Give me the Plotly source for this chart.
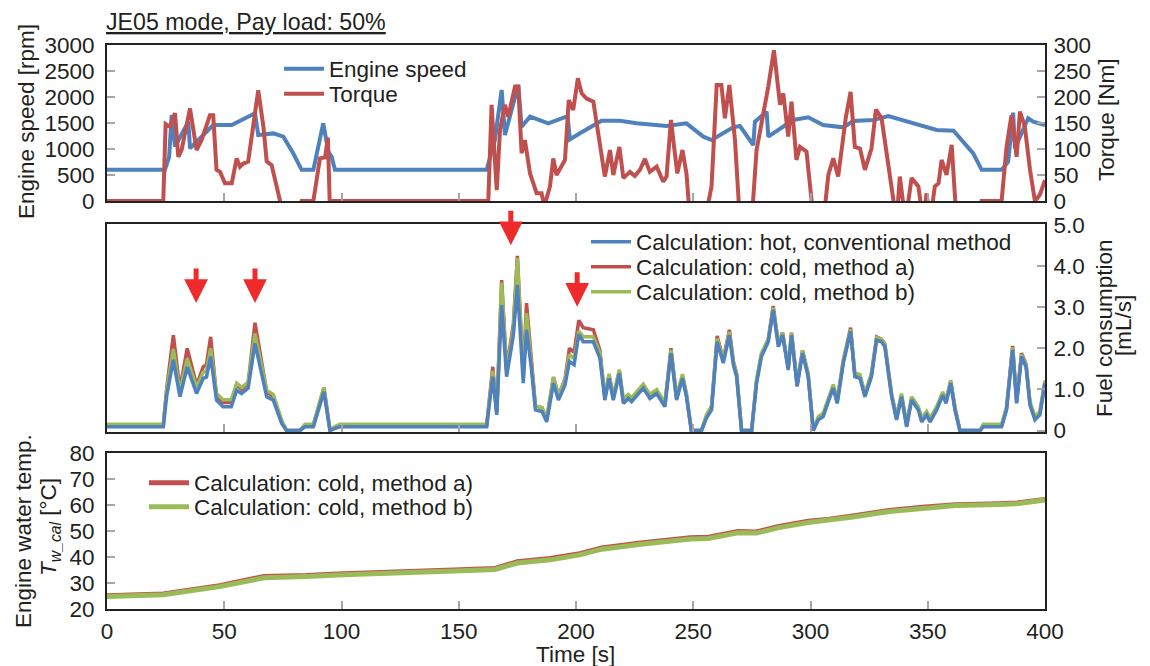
import plotly.graph_objects as go

# ---------------- data ----------------
t_speed = [0, 24.7, 26.5, 27.6, 29, 34.7, 35.4, 45.3, 53.2, 63.1, 64.5, 70.9, 75.2, 79.4, 83, 88, 92.2, 94.4, 95.8, 97.2,
           161.9, 165.4, 168.3, 169.7, 175.4, 176.8, 180.4, 188.2, 196.4, 197.4, 201.7, 210.9, 218.7, 225.8, 238.6, 247.1,
           254.3, 257.8, 267, 269.9, 275.6, 276.3, 281.3, 282, 292.6, 299, 305.4, 314, 318.2, 326.8, 333.2, 342.4, 353.8,
           361, 369.4, 373, 381.5, 384.3, 386.4, 387.2, 392.8, 395, 400]
engine_speed = [600, 600, 850, 1654, 1045, 1525, 1013, 1461, 1461, 1686, 1269, 1300, 1237, 917, 600, 600, 1494, 948, 852, 600,
                600, 1173, 2135, 1269, 2231, 1429, 1621, 1494, 1630, 1186, 1302, 1545, 1545, 1494, 1442, 1494,
                1237, 1173, 1417, 1442, 1077, 1525, 1718, 1237, 1558, 1609, 1461, 1417, 1538, 1558, 1635, 1506, 1365,
                1352, 917, 600, 600, 756, 1699, 1013, 1590, 1525, 1461]

t_torque = [0, 24, 25, 26.9, 29, 30.4, 31.8, 35.4, 38.2, 40.3, 43.9, 45.3, 46.7, 48.2, 50.3, 53.2, 55.3, 56.7, 58.1, 60.2,
            64.5, 66.7, 68.1, 70.2, 73.8, 76, 81, 83, 88, 90.8, 93, 94.2, 95.2, 96.3,
            162.6, 164, 166.2, 167.6, 169.7, 171.1, 174, 175.4, 176.8, 178.2, 180.4, 183.2, 185.3, 186.5, 188.9, 190.3,
            191.7, 195.3, 196.9, 198.8, 200.8, 202.4, 204.5, 207.4, 212.3, 214.5, 215.9, 218.5, 220.2, 223, 225.1, 227.3,
            229.4, 231.5, 234.4, 237.2, 238.6, 240.5, 241.5, 243.2, 245.4, 247.1, 248.7, 254.8, 257.8, 259.2, 260, 262,
            263.5, 265.4, 267.8, 269.9, 274.9, 277, 279.8, 282, 284.4, 287, 288.4, 290.5, 291.9, 294, 295.5, 298.3,
            301.4, 305.5, 307.6, 309.7, 311.8, 315.1, 317.1, 318.9, 321.1, 323.2, 326, 327.9, 330.3, 333.9, 336.7,
            338.1, 339.5, 340.5, 343.1, 346, 348.1, 349.5, 351, 353, 354.6, 355.9, 358, 360.2, 362.3, 372.5, 373,
            381.5, 383.6, 385.7, 387.9, 389.3, 391.4, 393.6, 395.7, 397.8, 400]
torque = [0, 0, 148, 143, 169, 85, 98, 178, 98, 117, 165, 165, 60, 56, 34, 34, 82, 66, 72, 76,
          213, 143, 76, 69, 0, -40, -40, 0, 0, 82, 84, 122, -40, 0,
          0, 185, 21, 137, 185, 162, 220, 220, 92, 117, 53, 15, 15, -10, 28, 82,
          50, 79, 194, 175, 236, 207, 197, 191, 47, 98, 50, 104, 44, 56, 48, 60,
          81, 56, 66, 37, 47, 156, 117, 53, 98, 53, -40, -40, 28, 162, 223, 223,
          159, 223, 117, -40, -40, 98, 162, 220, 290, 185, 207, 124, 191, 79, 104, 95,
          -40, -40, 50, 82, 47, 162, 210, 104, 101, 60, 101, 176, 159, 47, -40,
          47, 0, -40, 44, 28, -40, 15, -40, 28, 34, 79, 50, 108, -40, -40, 0,
          0, 104, 165, 85, 172, 143, 60, 0, 12, 40]

t_fuel = [0, 24, 25.5, 28.3, 31.1, 34.2, 38.2, 41, 42.4, 44.2, 46.7, 49.5, 53, 55.3, 57.4, 60.2, 63.1, 68.1, 70.9, 74.5,
          76.6, 82.3, 84.4, 88, 92.5, 95.1, 97.2, 99.3, 161.9, 164.5, 166.2, 168.3, 170.4, 173.3, 175, 177.5, 178.9,
          180.9, 182.7, 185.5, 187.5, 190.4, 192.5, 195.3, 197.2, 199.2, 201.2, 203.1, 207.4, 210.2, 212.3, 214.1,
          215.9, 218.5, 220.2, 222.3, 223.7, 228.7, 231.5, 234.4, 237.9, 240.5, 242.9, 245.4, 247.1, 249.2, 253.5,
          255.6, 257.8, 260.2, 262.8, 265.4, 267.1, 268.5, 270.6, 274.9, 277, 279.1, 282, 284.1, 286.3, 288.1, 290.5,
          291.9, 294.3, 296.6, 299, 301.2, 303.3, 305.4, 307.6, 309.7, 311.4, 314, 317.1, 318.9, 321.1, 323.2, 326,
          328.2, 330.3, 331.7, 334.6, 336.7, 338.8, 341, 343.1, 346, 347.4, 349.5, 351, 353.8, 356.4, 357.8, 359.8,
          361.6, 363.7, 372.3, 373.7, 381.5, 383.6, 386.2, 387.9, 390, 391.9, 393.6, 395.7, 397.8, 400]
fuel_hot = [0.09, 0.09, 0.86, 1.72, 0.82, 1.55, 0.9, 1.27, 1.3, 1.8, 0.74, 0.58, 0.58, 0.98, 0.9, 1.03, 2.12, 0.82, 0.74, 0.17,
            0, 0, 0.09, 0.09, 0.94, 0, 0.05, 0.09, 0.09, 1.31, 0.38, 3.05, 1.31, 2.32, 3.54, 1.15, 2.45,
            1.55, 0.5, 0.46, 0.21, 1.15, 0.74, 1.1, 1.68, 1.6, 2.34, 2.16, 2.16, 1.76, 0.74, 1.27,
            0.74, 1.39, 0.66, 0.78, 0.7, 1.03, 0.78, 0.9, 0.58, 1.88, 0.74, 1.27, 0.82, 0, 0,
            0.3, 0.5, 2.16, 1.64, 2.32, 1.6, 1.31, 0, 0, 1.15, 1.8, 2.16, 2.93, 2.04, 2.32, 1.47,
            2.32, 1.07, 1.88, 1.31, 0, 0.26, 0.34, 0.7, 1.03, 0.66, 1.64, 2.41, 1.31, 1.27, 0.82, 1.31,
            2.2, 2.16, 2.04, 0.82, 0.26, 0.82, 0.09, 0.74, 0.5, 0.21, 0.38, 0.21, 0.5, 0.86, 0.66, 1.15,
            0.5, 0, 0, 0.09, 0.09, 0.5, 1.96, 0.66, 1.8, 1.55, 0.62, 0.26, 0.38, 1.15]
fuel_cold_a = [0.12, 0.12, 1.05, 2.32, 1.0, 2.0, 1.1, 1.55, 1.6, 2.28, 0.85, 0.68, 0.68, 1.12, 1.0, 1.15, 2.62, 0.95, 0.82, 0.2,
               0, 0, 0.12, 0.12, 1.05, 0, 0.08, 0.12, 0.12, 1.55, 0.45, 3.66, 1.5, 2.6, 4.25, 1.35, 3.1,
               1.8, 0.6, 0.55, 0.28, 1.3, 0.85, 1.25, 2.0, 1.9, 2.68, 2.5, 2.45, 1.95, 0.8, 1.35,
               0.8, 1.45, 0.7, 0.82, 0.75, 1.08, 0.82, 0.95, 0.62, 2.0, 0.78, 1.32, 0.86, 0, 0,
               0.32, 0.55, 2.3, 1.72, 2.45, 1.68, 1.36, 0, 0, 1.2, 1.86, 2.22, 3.03, 2.1, 2.38, 1.52,
               2.38, 1.1, 1.94, 1.35, 0, 0.3, 0.38, 0.74, 1.08, 0.7, 1.7, 2.5, 1.36, 1.32, 0.86, 1.36,
               2.28, 2.22, 2.1, 0.86, 0.3, 0.86, 0.12, 0.78, 0.54, 0.25, 0.42, 0.25, 0.54, 0.9, 0.7, 1.2,
               0.54, 0, 0, 0.12, 0.12, 0.54, 2.06, 0.7, 1.88, 1.62, 0.66, 0.3, 0.42, 1.2]
fuel_cold_b = [0.15, 0.15, 1.0, 1.98, 0.95, 1.75, 1.05, 1.42, 1.45, 2.0, 0.9, 0.75, 0.75, 1.15, 1.05, 1.18, 2.36, 0.98, 0.88, 0.25,
               0, 0, 0.15, 0.15, 1.05, 0, 0.1, 0.15, 0.15, 1.45, 0.45, 3.6, 1.45, 2.5, 4.2, 1.3, 2.85,
               1.72, 0.6, 0.56, 0.3, 1.3, 0.85, 1.22, 1.85, 1.75, 2.42, 2.28, 2.28, 1.88, 0.84, 1.38,
               0.84, 1.48, 0.76, 0.88, 0.8, 1.13, 0.88, 1.0, 0.68, 1.96, 0.84, 1.37, 0.92, 0, 0,
               0.38, 0.6, 2.24, 1.72, 2.4, 1.68, 1.4, 0, 0, 1.25, 1.88, 2.22, 2.99, 2.12, 2.38, 1.56,
               2.38, 1.16, 1.95, 1.4, 0, 0.34, 0.42, 0.8, 1.12, 0.75, 1.72, 2.46, 1.4, 1.36, 0.9, 1.4,
               2.26, 2.22, 2.1, 0.9, 0.34, 0.9, 0.16, 0.82, 0.58, 0.3, 0.46, 0.3, 0.58, 0.94, 0.75, 1.22,
               0.58, 0, 0, 0.15, 0.15, 0.58, 2.02, 0.75, 1.85, 1.62, 0.7, 0.34, 0.46, 1.22]

t_temp = [0, 24, 48, 57, 67, 85, 101, 148, 165.5, 175, 189, 201.6, 211, 226.7, 248.7, 256.5, 269, 277, 286, 299, 308,
          318, 333.5, 349, 362, 380.6, 388, 400]
temp_cold_a = [25.1, 25.8, 29.0, 30.6, 32.5, 32.9, 33.6, 35.0, 35.6, 38.2, 39.4, 41.3, 43.5, 45.3, 47.4, 47.6, 49.8,
               49.6, 51.7, 53.8, 54.5, 55.8, 57.9, 59.2, 60.1, 60.5, 60.8, 62.1]
temp_cold_b = [24.8, 25.5, 28.6, 30.2, 32.0, 32.5, 33.2, 34.6, 35.2, 37.7, 38.9, 40.8, 43.0, 44.8, 46.9, 47.1, 49.3,
               49.2, 51.2, 53.3, 54.1, 55.4, 57.5, 58.8, 59.8, 60.2, 60.5, 61.9]

arrow_t = [38, 63.1, 172.2, 200.5]
arrow_tip = [3.10, 3.10, 4.51, 3.01]

x_ticks = [0, 50, 100, 150, 200, 250, 300, 350, 400]
fuel_ticks = [0, 1, 2, 3, 4, 5]
fuel_ticktext = ["0", "1.0", "2.0", "3.0", "4.0", "5.0"]

# ---------------- style ----------------
W, H = 1150, 666
BLUE = "#4f81bd"
RED = "#c0504d"
GREEN = "#9bbb59"
ARROW = "#ee2a2a"
TXT = "#231f20"
FONT = "Liberation Sans, Arial, sans-serif"
FS = 22.5

def px(x):
    return x / W

def py(y):
    return 1 - y / H

X_DOM = [px(107), px(1045)]
D1 = [py(201), py(45)]
D2 = [py(432), py(224)]
D3 = [py(609), py(453)]

fig = go.Figure()

# panel 1
fig.add_trace(go.Scatter(x=t_torque, y=torque, mode="lines", name="Torque", xaxis="x", yaxis="y2",
                         line=dict(color=RED, width=4), legend="legend2"))
fig.add_trace(go.Scatter(x=t_speed, y=engine_speed, mode="lines", name="Engine speed", xaxis="x", yaxis="y",
                         line=dict(color=BLUE, width=4), legend="legend"))
# panel 2
fig.add_trace(go.Scatter(x=t_fuel, y=fuel_cold_a, mode="lines", name="Calculation: cold, method a)",
                         xaxis="x2", yaxis="y3", line=dict(color=RED, width=3.5), legend="legend4"))
fig.add_trace(go.Scatter(x=t_fuel, y=fuel_cold_b, mode="lines", name="Calculation: cold, method b)",
                         xaxis="x2", yaxis="y3", line=dict(color=GREEN, width=3.5), legend="legend5"))
fig.add_trace(go.Scatter(x=t_fuel, y=fuel_hot, mode="lines", name="Calculation: hot, conventional method",
                         xaxis="x2", yaxis="y3", line=dict(color=BLUE, width=3.5), legend="legend3"))
# panel 3
fig.add_trace(go.Scatter(x=t_temp, y=temp_cold_a, mode="lines", name="Calculation: cold, method a)",
                         xaxis="x3", yaxis="y4", line=dict(color=RED, width=5), legend="legend6"))
fig.add_trace(go.Scatter(x=t_temp, y=temp_cold_b, mode="lines", name="Calculation: cold, method b)",
                         xaxis="x3", yaxis="y4", line=dict(color=GREEN, width=5), legend="legend7"))

axis_common = dict(showline=True, linecolor="#222222", linewidth=2, mirror=True, showgrid=False, zeroline=False,
                   ticks="inside", ticklen=8, tickwidth=2, tickcolor="#a6a6a6", automargin=False,
                   tickfont=dict(family=FONT, size=FS, color=TXT))

xcommon = dict(axis_common, range=[0, 400], tickvals=x_ticks, domain=X_DOM)

def legend_at(x, y):
    return dict(x=px(x), y=py(y), xanchor="left", yanchor="middle", bgcolor="rgba(0,0,0,0)",
                font=dict(family=FONT, size=FS, color=TXT), borderwidth=0, itemwidth=40,
                tracegroupgap=0)

layout = dict(
    width=W, height=H, margin=dict(l=0, r=0, t=0, b=0, pad=0, autoexpand=False),
    paper_bgcolor="white", plot_bgcolor="white",
    showlegend=True,
    xaxis=dict(xcommon, anchor="y", showticklabels=False),
    yaxis=dict(axis_common, domain=D1, range=[0, 3000], dtick=500, anchor="x", ticklabelstandoff=6),
    yaxis2=dict(axis_common, domain=D1, range=[0, 300], dtick=50, overlaying="y", side="right", anchor="x",
                ticklabelstandoff=2),
    xaxis2=dict(xcommon, anchor="y3", showticklabels=False),
    yaxis3=dict(axis_common, domain=D2, range=[-0.036, 5.024], tickvals=fuel_ticks, ticktext=fuel_ticktext,
                side="right", anchor="x2", ticklabelstandoff=2),
    xaxis3=dict(xcommon, anchor="y4", ticklabelstandoff=1),
    yaxis4=dict(axis_common, domain=D3, range=[20, 80], dtick=10, anchor="x3", ticklabelstandoff=6),
    legend=legend_at(279, 69),
    legend2=legend_at(279, 94),
    legend3=legend_at(586, 242),
    legend4=legend_at(586, 267),
    legend5=legend_at(586, 292),
    legend6=legend_at(144, 483),
    legend7=legend_at(144, 507),
)
fig.update_layout(**layout)

ann = []
def text_ann(text, x, y, angle=0, xanchor="center", size=FS):
    ann.append(dict(text=text, x=px(x), y=py(y), xref="paper", yref="paper", showarrow=False, textangle=angle,
                    xanchor=xanchor, yanchor="middle", font=dict(family=FONT, size=size, color=TXT)))

text_ann("<u>JE05 mode, Pay load: 50%</u>", 104, 22, xanchor="left", size=23.2)
text_ann("Engine speed [rpm]", 27, 122, angle=-90)
text_ann("Torque [Nm]", 1107, 120, angle=-90)
text_ann("Fuel consumption", 1104, 328, angle=-90)
text_ann("[mL/s]", 1123, 326, angle=-90)
text_ann("Engine water temp.", 23, 531, angle=-90)
text_ann("<i>T</i><sub><i>w_cal</i></sub> [°C]", 50, 527, angle=-90)
text_ann("Time [s]", 575, 654)

for t, v in zip(arrow_t, arrow_tip):
    ann.append(dict(x=t, y=v, xref="x2", yref="y3", text="", showarrow=True, ax=0, ay=-36,
                    arrowhead=2, arrowsize=0.95, arrowwidth=5, arrowcolor=ARROW, standoff=0))

fig.update_layout(annotations=ann)
fig.write_html("out.html")
